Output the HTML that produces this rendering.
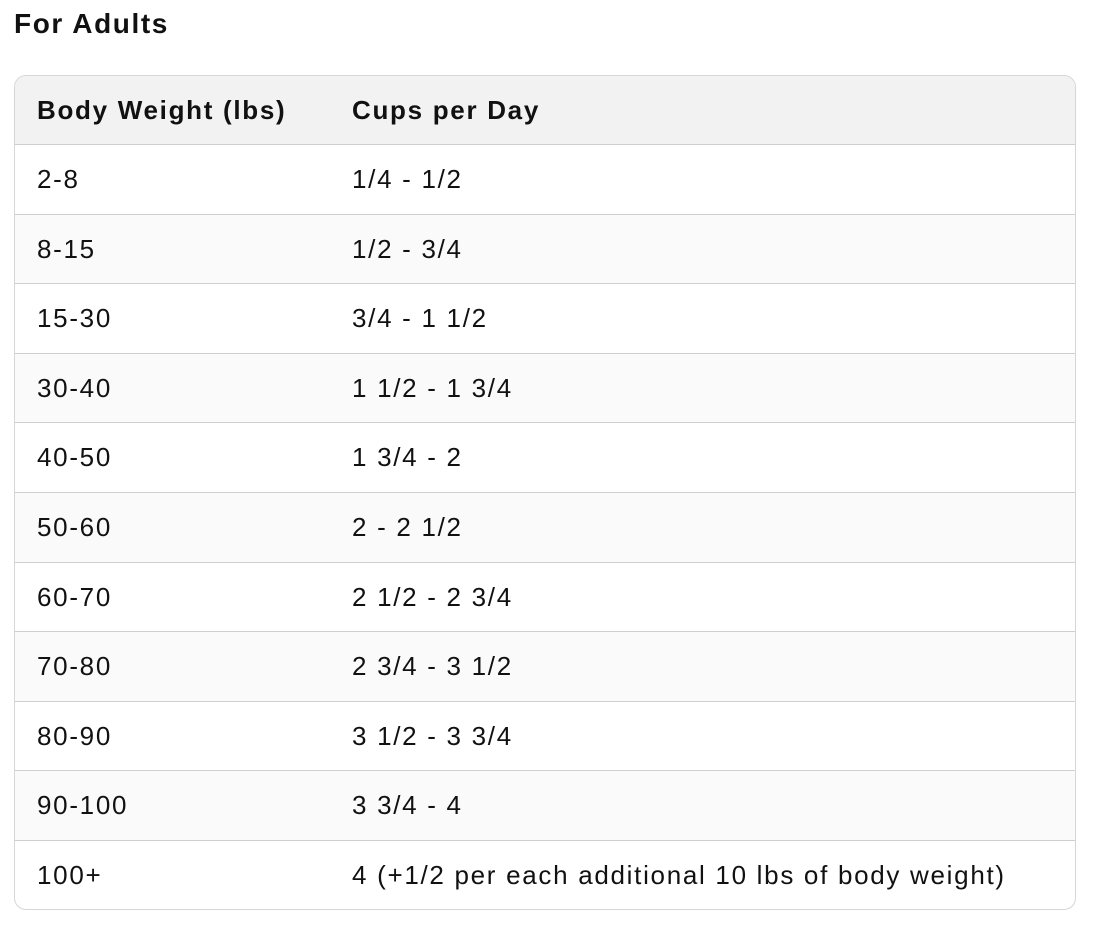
<!DOCTYPE html>
<html><head><style>
body{margin:0;width:1098px;height:926px;background:#fff;font-family:"Liberation Sans",sans-serif;color:#111;position:relative;overflow:hidden}
h1{position:absolute;left:14px;top:6px;margin:0;font-size:28px;font-weight:bold;line-height:36px;letter-spacing:1.6px}
.t{position:absolute;left:14px;top:75px;width:1062px;height:835px;border:1px solid #d6d6d6;border-radius:12px;overflow:hidden;box-sizing:border-box}
.r{position:absolute;left:0;width:100%;height:70px;border-top:1px solid #cfcfcf;box-sizing:border-box;font-size:26px;letter-spacing:1.7px}
.r span{position:absolute;top:0;line-height:68px}
.a{left:22px}.b{left:337px}
.h{background:#f2f2f2;border-top:none;font-weight:bold;height:68px;letter-spacing:1.7px}
.g{background:#fafafa}
</style></head><body>
<h1>For Adults</h1>
<div class="t">
<div class="r h" style="top:0"><span class="a">Body Weight (lbs)</span><span class="b">Cups per Day</span></div>
<div class="r" style="top:68px"><span class="a">2-8</span><span class="b">1/4 - 1/2</span></div>
<div class="r g" style="top:137.6px"><span class="a">8-15</span><span class="b">1/2 - 3/4</span></div>
<div class="r" style="top:207.2px"><span class="a">15-30</span><span class="b">3/4 - 1 1/2</span></div>
<div class="r g" style="top:276.8px"><span class="a">30-40</span><span class="b">1 1/2 - 1 3/4</span></div>
<div class="r" style="top:346.4px"><span class="a">40-50</span><span class="b">1 3/4 - 2</span></div>
<div class="r g" style="top:416px"><span class="a">50-60</span><span class="b">2 - 2 1/2</span></div>
<div class="r" style="top:485.6px"><span class="a">60-70</span><span class="b">2 1/2 - 2 3/4</span></div>
<div class="r g" style="top:555.2px"><span class="a">70-80</span><span class="b">2 3/4 - 3 1/2</span></div>
<div class="r" style="top:624.8px"><span class="a">80-90</span><span class="b">3 1/2 - 3 3/4</span></div>
<div class="r g" style="top:694.4px"><span class="a">90-100</span><span class="b">3 3/4 - 4</span></div>
<div class="r" style="top:764px"><span class="a">100+</span><span class="b">4 (+1/2 per each additional 10 lbs of body weight)</span></div>
</div>
</body></html>
